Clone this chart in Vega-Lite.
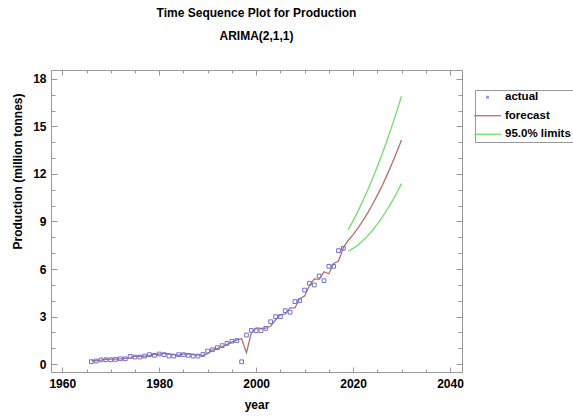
{
  "$schema": "https://vega.github.io/schema/vega-lite/v6.json",
  "width": 411,
  "height": 302,
  "autosize": {"type": "none"},
  "padding": {"left": 51, "top": 70, "right": 111, "bottom": 44},
  "background": "white",
  "title": {
    "text": "Time Sequence Plot for Production",
    "subtitle": "ARIMA(2,1,1)",
    "font": "Liberation Sans", "fontSize": 12, "fontWeight": "bold", "color": "black",
    "subtitleFont": "Liberation Sans", "subtitleFontSize": 12, "subtitleFontWeight": "bold", "subtitleColor": "black",
    "anchor": "middle", "offset": 27, "subtitlePadding": 11
  },
  "config": {
    "view": {"stroke": null},
    "axis": {
      "grid": false,
      "domainColor": "#999999",
      "tickColor": "#999999",
      "labelFont": "Liberation Sans", "labelFontSize": 12, "labelFontWeight": "bold", "labelColor": "black",
      "titleFont": "Liberation Sans", "titleFontSize": 12, "titleFontWeight": "bold", "titleColor": "black",
      "labelOverlap": false, "labelFlush": false
    }
  },
  "datasets": {
    "actual": [
      {"year":1966,"value":0.15,"series":"actual"},{"year":1967,"value":0.19,"series":"actual"},{"year":1968,"value":0.26,"series":"actual"},{"year":1969,"value":0.27,"series":"actual"},{"year":1970,"value":0.27,"series":"actual"},{"year":1971,"value":0.29,"series":"actual"},{"year":1972,"value":0.33,"series":"actual"},{"year":1973,"value":0.33,"series":"actual"},{"year":1974,"value":0.48,"series":"actual"},{"year":1975,"value":0.44,"series":"actual"},{"year":1976,"value":0.44,"series":"actual"},{"year":1977,"value":0.5,"series":"actual"},{"year":1978,"value":0.59,"series":"actual"},{"year":1979,"value":0.55,"series":"actual"},{"year":1980,"value":0.63,"series":"actual"},{"year":1981,"value":0.59,"series":"actual"},{"year":1982,"value":0.5,"series":"actual"},{"year":1983,"value":0.5,"series":"actual"},{"year":1984,"value":0.59,"series":"actual"},{"year":1985,"value":0.59,"series":"actual"},{"year":1986,"value":0.55,"series":"actual"},{"year":1987,"value":0.5,"series":"actual"},{"year":1988,"value":0.5,"series":"actual"},{"year":1989,"value":0.6,"series":"actual"},{"year":1990,"value":0.82,"series":"actual"},{"year":1991,"value":0.9,"series":"actual"},{"year":1992,"value":1.03,"series":"actual"},{"year":1993,"value":1.16,"series":"actual"},{"year":1994,"value":1.3,"series":"actual"},{"year":1995,"value":1.44,"series":"actual"},{"year":1996,"value":1.48,"series":"actual"},{"year":1997,"value":0.14,"series":"actual"},{"year":1998,"value":1.83,"series":"actual"},{"year":1999,"value":2.12,"series":"actual"},{"year":2000,"value":2.1,"series":"actual"},{"year":2001,"value":2.1,"series":"actual"},{"year":2002,"value":2.25,"series":"actual"},{"year":2003,"value":2.67,"series":"actual"},{"year":2004,"value":2.99,"series":"actual"},{"year":2005,"value":2.99,"series":"actual"},{"year":2006,"value":3.37,"series":"actual"},{"year":2007,"value":3.27,"series":"actual"},{"year":2008,"value":3.94,"series":"actual"},{"year":2009,"value":4.0,"series":"actual"},{"year":2010,"value":4.67,"series":"actual"},{"year":2011,"value":5.1,"series":"actual"},{"year":2012,"value":4.99,"series":"actual"},{"year":2013,"value":5.56,"series":"actual"},{"year":2014,"value":5.26,"series":"actual"},{"year":2015,"value":6.17,"series":"actual"},{"year":2016,"value":6.17,"series":"actual"},{"year":2017,"value":7.16,"series":"actual"},{"year":2018,"value":7.31,"series":"actual"}
    ],
    "lines": [
      {"year":1966,"value":0.2,"series":"forecast","bound":"mid"},{"year":1967,"value":0.22,"series":"forecast","bound":"mid"},{"year":1968,"value":0.25,"series":"forecast","bound":"mid"},{"year":1969,"value":0.3,"series":"forecast","bound":"mid"},{"year":1970,"value":0.31,"series":"forecast","bound":"mid"},{"year":1971,"value":0.31,"series":"forecast","bound":"mid"},{"year":1972,"value":0.33,"series":"forecast","bound":"mid"},{"year":1973,"value":0.36,"series":"forecast","bound":"mid"},{"year":1974,"value":0.37,"series":"forecast","bound":"mid"},{"year":1975,"value":0.5,"series":"forecast","bound":"mid"},{"year":1976,"value":0.49,"series":"forecast","bound":"mid"},{"year":1977,"value":0.48,"series":"forecast","bound":"mid"},{"year":1978,"value":0.53,"series":"forecast","bound":"mid"},{"year":1979,"value":0.63,"series":"forecast","bound":"mid"},{"year":1980,"value":0.61,"series":"forecast","bound":"mid"},{"year":1981,"value":0.67,"series":"forecast","bound":"mid"},{"year":1982,"value":0.65,"series":"forecast","bound":"mid"},{"year":1983,"value":0.58,"series":"forecast","bound":"mid"},{"year":1984,"value":0.55,"series":"forecast","bound":"mid"},{"year":1985,"value":0.62,"series":"forecast","bound":"mid"},{"year":1986,"value":0.64,"series":"forecast","bound":"mid"},{"year":1987,"value":0.6,"series":"forecast","bound":"mid"},{"year":1988,"value":0.56,"series":"forecast","bound":"mid"},{"year":1989,"value":0.55,"series":"forecast","bound":"mid"},{"year":1990,"value":0.65,"series":"forecast","bound":"mid"},{"year":1991,"value":0.88,"series":"forecast","bound":"mid"},{"year":1992,"value":0.98,"series":"forecast","bound":"mid"},{"year":1993,"value":1.1,"series":"forecast","bound":"mid"},{"year":1994,"value":1.24,"series":"forecast","bound":"mid"},{"year":1995,"value":1.38,"series":"forecast","bound":"mid"},{"year":1996,"value":1.52,"series":"forecast","bound":"mid"},{"year":1997,"value":1.6,"series":"forecast","bound":"mid"},{"year":1998,"value":0.72,"series":"forecast","bound":"mid"},{"year":1999,"value":1.95,"series":"forecast","bound":"mid"},{"year":2000,"value":2.28,"series":"forecast","bound":"mid"},{"year":2001,"value":2.25,"series":"forecast","bound":"mid"},{"year":2002,"value":2.26,"series":"forecast","bound":"mid"},{"year":2003,"value":2.4,"series":"forecast","bound":"mid"},{"year":2004,"value":2.78,"series":"forecast","bound":"mid"},{"year":2005,"value":3.12,"series":"forecast","bound":"mid"},{"year":2006,"value":3.15,"series":"forecast","bound":"mid"},{"year":2007,"value":3.55,"series":"forecast","bound":"mid"},{"year":2008,"value":3.55,"series":"forecast","bound":"mid"},{"year":2009,"value":4.12,"series":"forecast","bound":"mid"},{"year":2010,"value":4.3,"series":"forecast","bound":"mid"},{"year":2011,"value":4.95,"series":"forecast","bound":"mid"},{"year":2012,"value":5.38,"series":"forecast","bound":"mid"},{"year":2013,"value":5.35,"series":"forecast","bound":"mid"},{"year":2014,"value":5.82,"series":"forecast","bound":"mid"},{"year":2015,"value":5.7,"series":"forecast","bound":"mid"},{"year":2016,"value":6.35,"series":"forecast","bound":"mid"},{"year":2017,"value":6.5,"series":"forecast","bound":"mid"},{"year":2018,"value":7.35,"series":"forecast","bound":"mid"},{"year":2019,"value":7.8,"series":"forecast","bound":"mid"},{"year":2020,"value":8.17,"series":"forecast","bound":"mid"},{"year":2021,"value":8.58,"series":"forecast","bound":"mid"},{"year":2022,"value":9.04,"series":"forecast","bound":"mid"},{"year":2023,"value":9.53,"series":"forecast","bound":"mid"},{"year":2024,"value":10.07,"series":"forecast","bound":"mid"},{"year":2025,"value":10.65,"series":"forecast","bound":"mid"},{"year":2026,"value":11.26,"series":"forecast","bound":"mid"},{"year":2027,"value":11.93,"series":"forecast","bound":"mid"},{"year":2028,"value":12.63,"series":"forecast","bound":"mid"},{"year":2029,"value":13.37,"series":"forecast","bound":"mid"},{"year":2030,"value":14.15,"series":"forecast","bound":"mid"},
      {"year":2019,"value":8.48,"series":"95.0% limits","bound":"upper"},{"year":2020,"value":9.04,"series":"95.0% limits","bound":"upper"},{"year":2021,"value":9.64,"series":"95.0% limits","bound":"upper"},{"year":2022,"value":10.29,"series":"95.0% limits","bound":"upper"},{"year":2023,"value":10.97,"series":"95.0% limits","bound":"upper"},{"year":2024,"value":11.7,"series":"95.0% limits","bound":"upper"},{"year":2025,"value":12.46,"series":"95.0% limits","bound":"upper"},{"year":2026,"value":13.26,"series":"95.0% limits","bound":"upper"},{"year":2027,"value":14.12,"series":"95.0% limits","bound":"upper"},{"year":2028,"value":15.01,"series":"95.0% limits","bound":"upper"},{"year":2029,"value":15.94,"series":"95.0% limits","bound":"upper"},{"year":2030,"value":16.91,"series":"95.0% limits","bound":"upper"},
      {"year":2019,"value":7.12,"series":"95.0% limits","bound":"lower"},{"year":2020,"value":7.3,"series":"95.0% limits","bound":"lower"},{"year":2021,"value":7.52,"series":"95.0% limits","bound":"lower"},{"year":2022,"value":7.79,"series":"95.0% limits","bound":"lower"},{"year":2023,"value":8.09,"series":"95.0% limits","bound":"lower"},{"year":2024,"value":8.44,"series":"95.0% limits","bound":"lower"},{"year":2025,"value":8.84,"series":"95.0% limits","bound":"lower"},{"year":2026,"value":9.26,"series":"95.0% limits","bound":"lower"},{"year":2027,"value":9.74,"series":"95.0% limits","bound":"lower"},{"year":2028,"value":10.25,"series":"95.0% limits","bound":"lower"},{"year":2029,"value":10.8,"series":"95.0% limits","bound":"lower"},{"year":2030,"value":11.39,"series":"95.0% limits","bound":"lower"}
    ]
  },
  "layer": [
    {
      "data": {"name": "lines"},
      "mark": {"type": "line", "strokeWidth": 1.3},
      "encoding": {
        "x": {
          "field": "year", "type": "quantitative",
          "scale": {"domain": [1957.67, 2042.48], "nice": false, "zero": false},
          "axis": {
            "orient": "bottom", "title": "year",
            "values": [1960,1965,1970,1975,1980,1985,1990,1995,2000,2005,2010,2015,2020,2025,2030,2035,2040],
            "format": "d",
            "labelExpr": "datum.value % 20 === 0 ? datum.label : ''",
            "tickSize": {"condition": {"test": "datum.value % 20 === 0", "value": -5}, "value": -3},
            "labelPadding": 11,
            "titlePadding": 8
          }
        },
        "y": {
          "field": "value", "type": "quantitative",
          "scale": {"domain": [-0.505, 18.568], "nice": false, "zero": false},
          "axis": {
            "orient": "left", "title": "Production  (million tonnes)",
            "values": [0,1,2,3,4,5,6,7,8,9,10,11,12,13,14,15,16,17,18],
            "labelExpr": "datum.value % 3 === 0 ? datum.label : ''",
            "tickSize": {"condition": {"test": "datum.value % 3 === 0", "value": -6}, "value": -4},
            "labelPadding": 11,
            "titleAngle": -90, "titleX": -34, "titleY": 101, "titleAlign": "center", "titleBaseline": "middle"
          }
        },
        "color": {
          "field": "series", "type": "nominal",
          "scale": {"domain": ["actual", "forecast", "95.0% limits"], "range": ["#7070d8", "#b86e6e", "#6ee06e"]},
          "legend": {
            "orient": "none", "legendX": 424, "legendY": 20, "title": null,
            "strokeColor": "#999999", "padding": 1.5, "fillColor": "white",
            "labelFont": "Liberation Sans", "labelFontSize": 11.5, "labelFontWeight": "bold", "labelColor": "black",
            "symbolSize": 182, "symbolType": "M-1.2,0H2.8", "symbolStrokeWidth": 1.3,
            "labelOffset": 17, "rowPadding": 5.5,
            "encode": {
              "symbols": {
                "update": {
                  "shape": {"signal": "datum.value === 'actual' ? 'M0.55,-0.22H1V0.22H0.55Z' : 'M-1.2,0H2.8'"},
                  "fill": {"signal": "datum.value === 'actual' ? '#9a9ae6' : 'transparent'"},
                  "stroke": {"signal": "datum.value === 'actual' ? '#9a9ae6' : (datum.value === 'forecast' ? '#c99a9a' : '#6ee06e')"},
                  "strokeWidth": {"signal": "datum.value === 'actual' ? 0 : 1.3"}
                }
              }
            }
          }
        },
        "detail": {"field": "bound"}
      }
    },
    {
      "data": {"name": "actual"},
      "mark": {"type": "point", "shape": "square", "size": 14, "filled": false, "strokeWidth": 1, "opacity": 1},
      "encoding": {
        "x": {
          "field": "year", "type": "quantitative",
          "axis": {
            "orient": "top", "title": null, "labels": false,
            "values": [1960,1965,1970,1975,1980,1985,1990,1995,2000,2005,2010,2015,2020,2025,2030,2035,2040],
            "tickSize": {"condition": {"test": "datum.value % 20 === 0", "value": -5}, "value": -3}
          }
        },
        "y": {
          "field": "value", "type": "quantitative",
          "axis": {
            "orient": "right", "title": null, "labels": false,
            "values": [0,1,2,3,4,5,6,7,8,9,10,11,12,13,14,15,16,17,18],
            "tickSize": {"condition": {"test": "datum.value % 3 === 0", "value": -6}, "value": -4}
          }
        },
        "color": {"field": "series", "type": "nominal", "legend": null}
      }
    }
  ],
  "resolve": {"axis": {"x": "independent", "y": "independent"}}
}
